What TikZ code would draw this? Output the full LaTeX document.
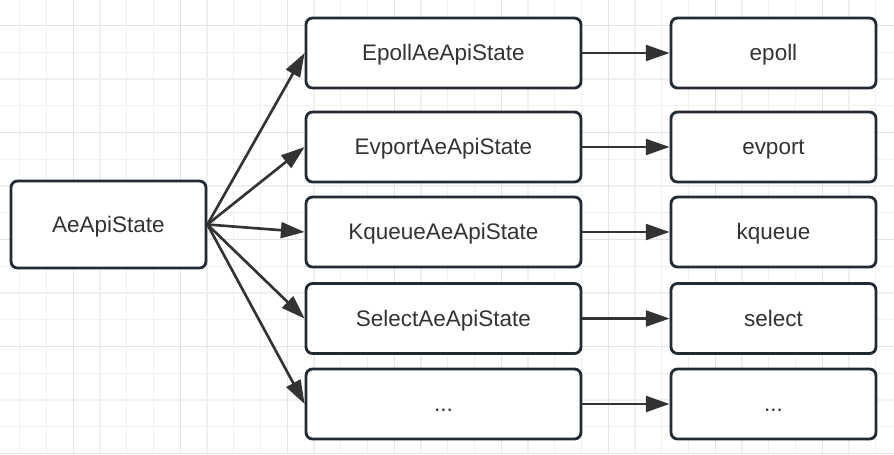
\documentclass[tikz,border=0pt]{standalone}
\usepackage{fontspec}
\setmainfont{Liberation Sans}
\usetikzlibrary{arrows.meta, positioning}

\definecolor{boxline}{HTML}{222A33}
\definecolor{arrowcol}{HTML}{333333}
\definecolor{gridminor}{HTML}{F0F0F0}
\definecolor{gridmajor}{HTML}{E4E4E4}

\tikzset{
  statebox/.style={draw=boxline, line width=1.6pt, rounded corners=0.13cm,
    fill=white, text=arrowcol, align=center,
    font=\fontsize{12.8}{15}\selectfont,
    text height=1em, text depth=0.1em},
  midbox/.style={statebox, minimum width=5.5cm, minimum height=1.4cm},
  implbox/.style={statebox, minimum width=4.1cm, minimum height=1.4cm},
  link/.style={draw=arrowcol, line width=1.5pt,
    -{Triangle[length=13.5pt, width=9pt]}},
}

\begin{document}
\begin{tikzpicture}[x=0.02cm, y=-0.02cm]
    % --- Canvas and grid ---
    \useasboundingbox (0,0) rectangle (894,454);
    \fill[white] (0,0) rectangle (894,454);
    \begin{scope}
      \clip (0,0) rectangle (894,454);
      \foreach \i in {0,...,33}
        \draw[gridminor, line width=0.6pt] ({19.75+26.75*\i},0) -- ++(0,454);
      \foreach \j in {0,...,16}
        \draw[gridminor, line width=0.6pt] (0,{25.5+26.75*\j}) -- ++(894,0);
      \foreach \i in {0,...,7}
        \draw[gridmajor, line width=0.8pt] ({73.25+107*\i},0) -- ++(0,454);
      \foreach \j in {0,...,4}
        \draw[gridmajor, line width=0.8pt] (0,{25.5+107*\j}) -- ++(894,0);
    \end{scope}

    % --- Base state ---
    \node[statebox, minimum width=3.9cm, minimum height=1.74cm] (api) at (108.5,224.5) {AeApiState};

    % --- Backend states ---
    \node[midbox] (epollst)  at (443.5,53)    {EpollAeApiState};
    \node[midbox] (evportst) at (443.5,147)   {EvportAeApiState};
    \node[midbox] (kqueuest) at (443.5,232)   {KqueueAeApiState};
    \node[midbox] (selectst) at (443.5,318.5) {SelectAeApiState};
    \node[midbox] (otherst)  at (443.5,404)   {...};

    % --- Multiplexing libraries ---
    \node[implbox] (epoll)  at (773.5,53)    {epoll};
    \node[implbox] (evport) at (773.5,147)   {evport};
    \node[implbox] (kqueue) at (773.5,232)   {kqueue};
    \node[implbox] (select) at (773.5,318.5) {select};
    \node[implbox] (other)  at (773.5,404)   {...};

    % --- Arrows ---
    \foreach \s in {epollst, evportst, kqueuest, selectst, otherst}
      \draw[link] (api.east) -- (\s.west);
    \draw[link] (epollst)  -- (epoll);
    \draw[link] (evportst) -- (evport);
    \draw[link] (kqueuest) -- (kqueue);
    \draw[link] (selectst) -- (select);
    \draw[link] (otherst)  -- (other);
\end{tikzpicture}
\end{document}
